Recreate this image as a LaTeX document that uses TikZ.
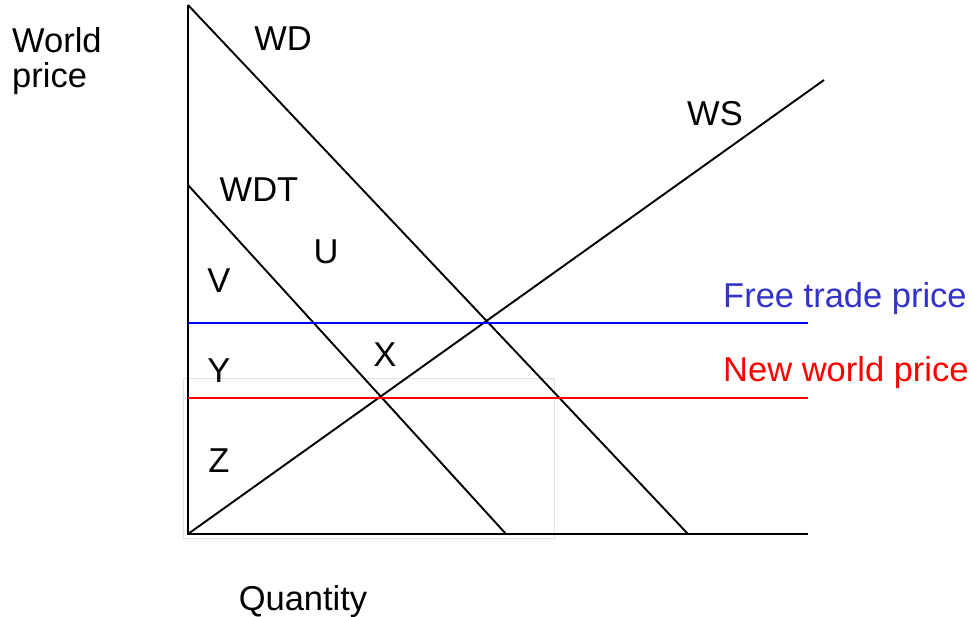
\documentclass[tikz,border=0pt]{standalone}
\usepackage{fontspec}
\setmainfont{Liberation Sans}
\usetikzlibrary{positioning}
\definecolor{ftblue}{RGB}{51,51,204}
\tikzstyle{curve} = [black, line width=1.9pt]
\tikzstyle{axis} = [black, line width=2pt]
\tikzstyle{label} = [inner sep=0pt, anchor=base, font=\fontsize{34.5}{40}\selectfont]
\tikzstyle{pricetag} = [inner sep=0pt, anchor=base west, font=\fontsize{34.5}{40}\selectfont]

\begin{document}
\begin{tikzpicture}[x=1pt, y=-1pt]
      \useasboundingbox (0,0) rectangle (972,616);

      % faint box
      \draw [gray!22, line width=1pt] (183,378) rectangle (554,538);

      % axes
      \coordinate (origin) at (188,534);
      \coordinate (ytop) at (188,5);
      \coordinate (xend) at (808,534);
      \draw [axis] (ytop) -- (origin) -- (xend);

      % curves
      \coordinate (wdtop) at (188,5);
      \coordinate (wdbot) at (688,534);
      \coordinate (wdttop) at (188,185);
      \coordinate (wdtbot) at (506,534);
      \coordinate (wstop) at (824,80);
      \draw [curve] (wdtop) -- (wdbot);
      \draw [curve] (wdttop) -- (wdtbot);
      \draw [curve] (origin) -- (wstop);

      % price lines
      \coordinate (ftl) at (188,323);
      \coordinate (ftr) at (808,323);
      \coordinate (nwl) at (188,398);
      \coordinate (nwr) at (808,398);
      \draw [blue, line width=1.5pt] (ftl) -- (ftr);
      \draw [red, line width=1.5pt] (nwl) -- (nwr);

      % labels
      \node (wlabel) [pricetag] at (12,52) {World};
      \node (plabel) [pricetag] at (12,87) {price};
      \node (qlabel) [label] at (303,610) {Quantity};
      \node (wd) [label] at (283,50) {WD};
      \node (ws) [label] at (715,125) {WS};
      \node (wdt) [label] at (259,201) {WDT};
      \node (u) [label] at (326,263) {U};
      \node (v) [label] at (219,292) {V};
      \node (y) [label] at (219,382) {Y};
      \node (x) [label] at (385,366) {X};
      \node (z) [label] at (219,472) {Z};
      \node (free) [pricetag, text=ftblue] at (723,307) {Free trade price};
      \node (new) [pricetag, text=red] at (723,381) {New world price};

\end{tikzpicture}
\end{document}
